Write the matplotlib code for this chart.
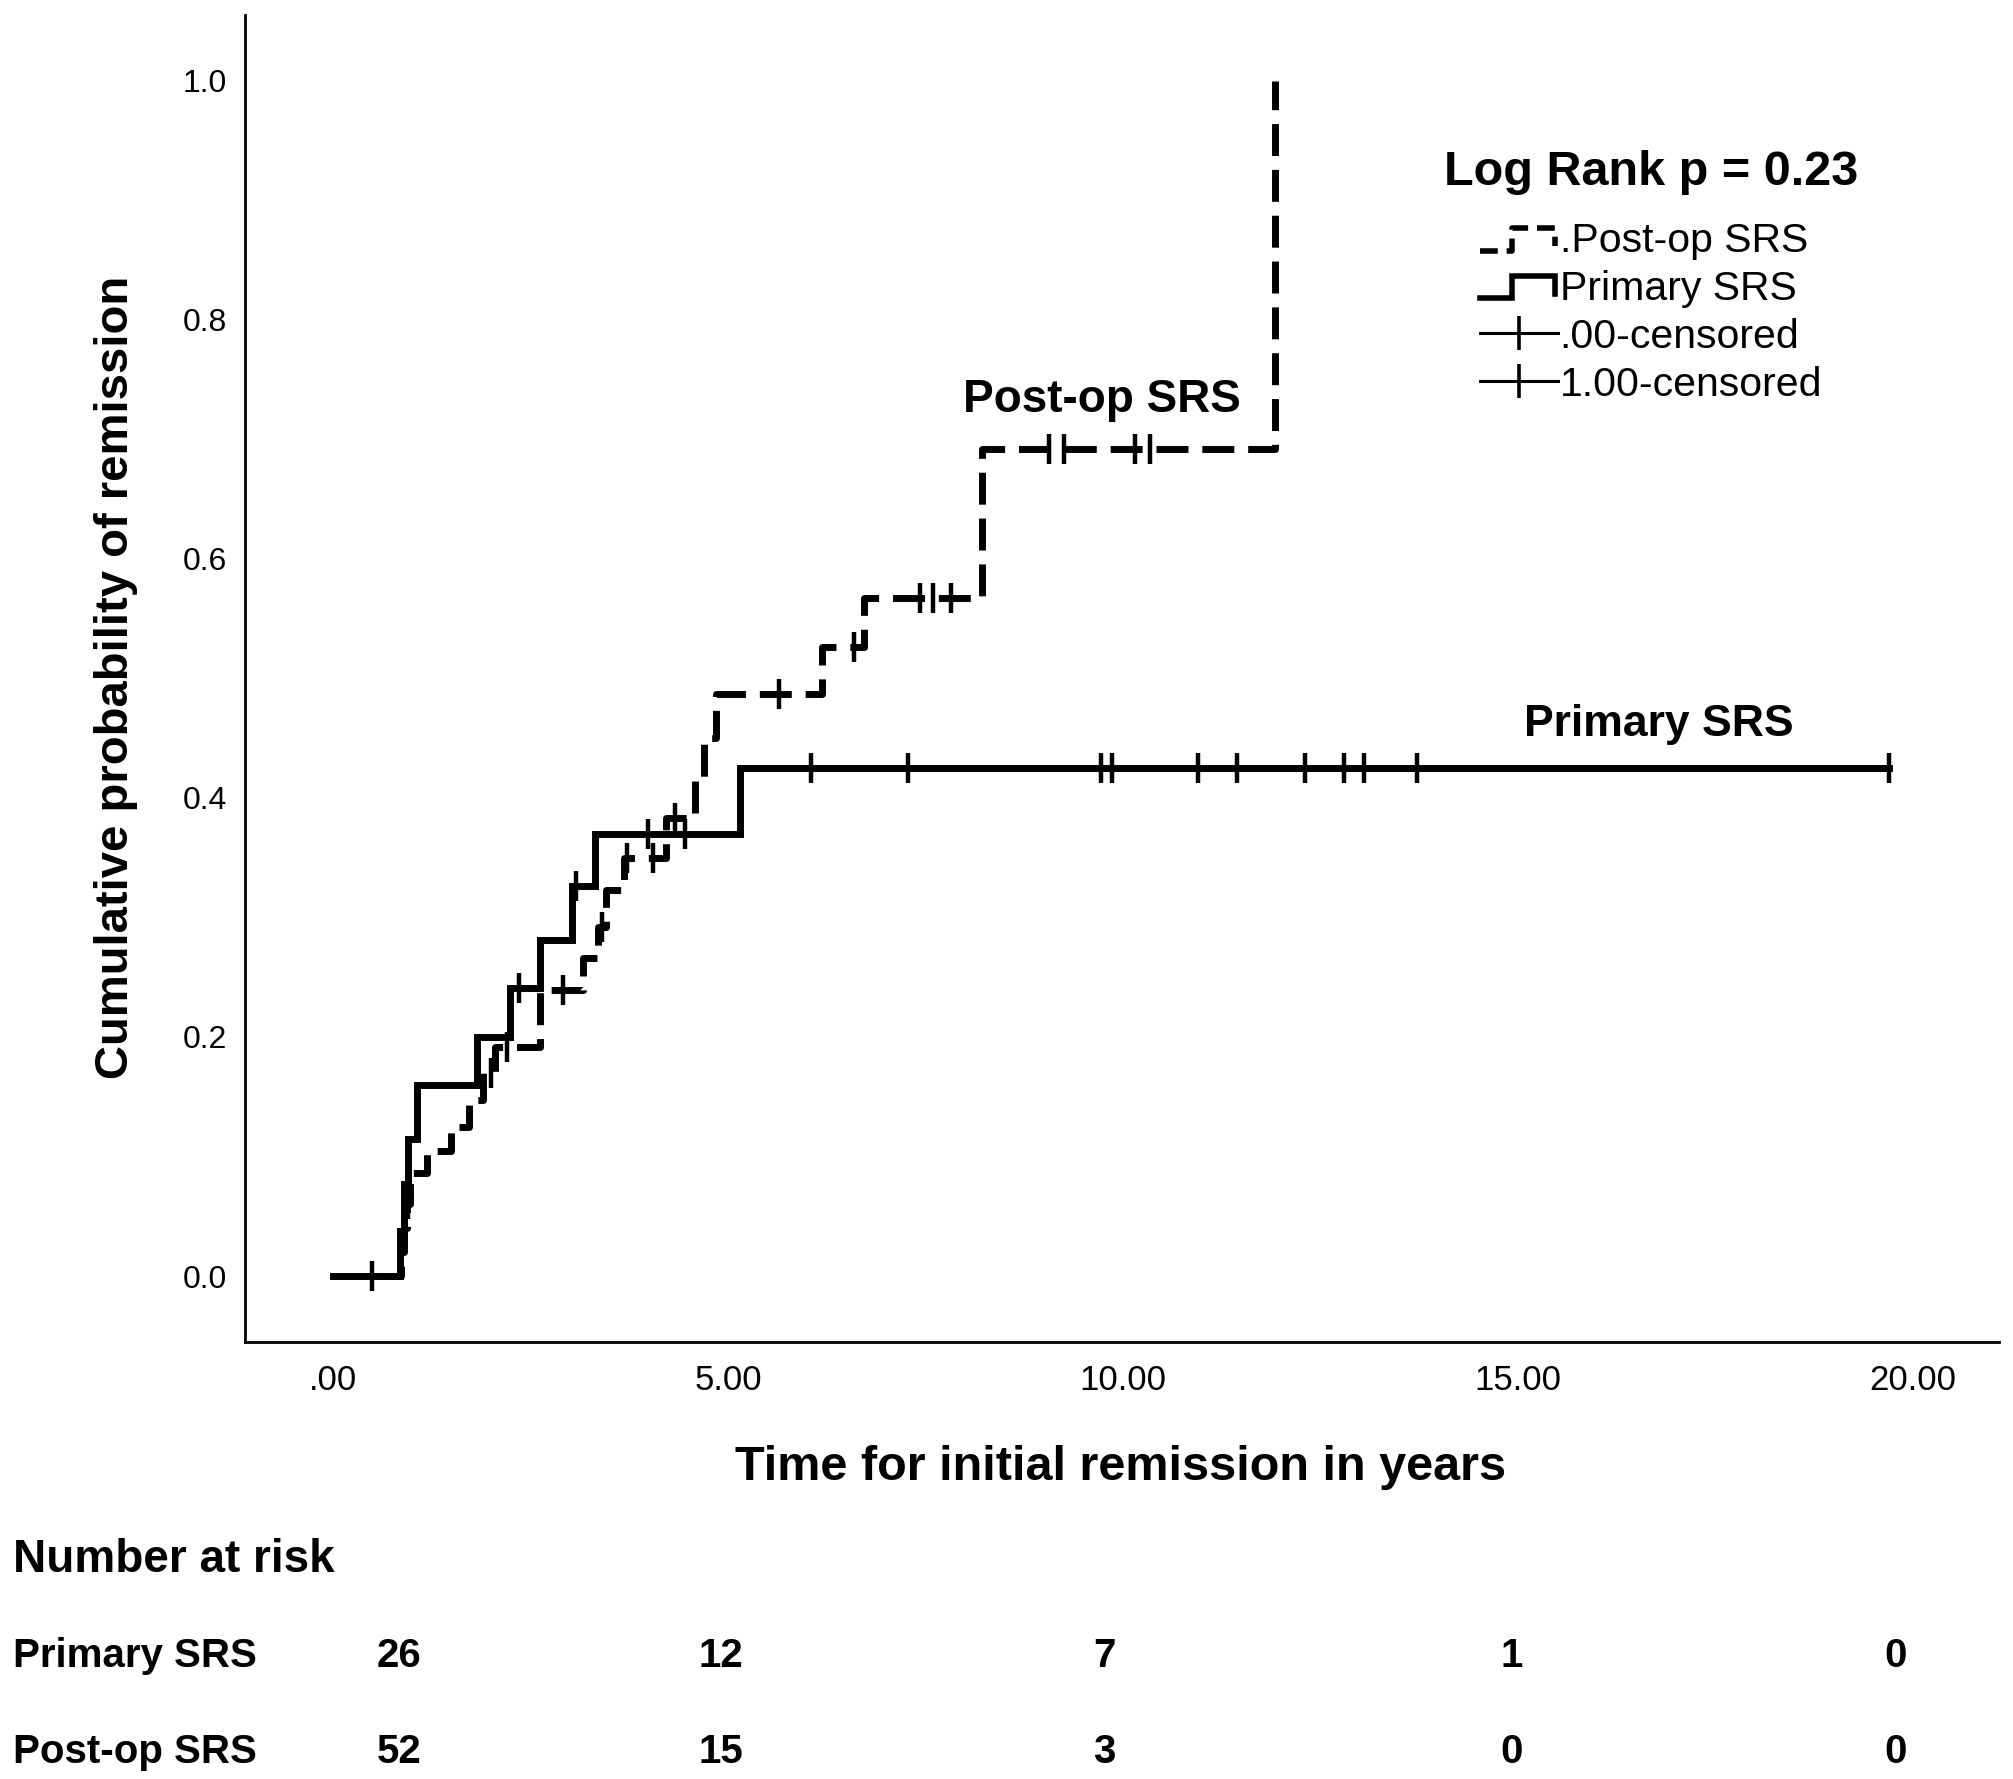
import numpy as np
import matplotlib
matplotlib.use("Agg")
import matplotlib.pyplot as plt
from matplotlib.lines import Line2D
from matplotlib.legend_handler import HandlerBase

plt.rcParams['font.family'] = ['Liberation Sans', 'DejaVu Sans']

# ---------------- data ----------------
primary_times = [0, 0.85, 0.90, 0.95, 1.06, 1.82, 2.24, 2.62, 3.02, 3.32, 5.15, 19.70]
primary_cum = [0, 0.038, 0.077, 0.115, 0.160, 0.200, 0.241, 0.281, 0.326, 0.370, 0.425, 0.425]
primary_censored = [0.50, 2.35, 3.07, 3.99, 4.46, 6.05, 7.28, 9.72, 9.86, 10.95,
                    11.45, 12.30, 12.80, 13.05, 13.72, 19.70]

postop_times = [0, 0.86, 0.90, 0.94, 0.98, 1.19, 1.50, 1.72, 1.90, 2.05, 2.62,
                3.17, 3.35, 3.45, 3.69, 4.22, 4.58, 4.70, 4.85, 6.19, 6.72, 8.22, 11.92]
postop_cum = [0, 0.020, 0.040, 0.060, 0.086, 0.105, 0.125, 0.147, 0.170, 0.192, 0.239,
              0.266, 0.292, 0.323, 0.350, 0.383, 0.417, 0.450, 0.487, 0.526, 0.567, 0.692, 1.0]
postop_censored = [0.95, 2.00, 2.20, 2.91, 3.40, 3.72, 4.05, 4.33, 5.65, 6.60,
                   7.43, 7.60, 7.82, 9.07, 9.25, 10.15, 10.34]

x_ticks = [0, 5, 10, 15, 20]
x_tick_labels = ['.00', '5.00', '10.00', '15.00', '20.00']
y_ticks = [0.0, 0.2, 0.4, 0.6, 0.8, 1.0]
y_tick_labels = ['0.0', '0.2', '0.4', '0.6', '0.8', '1.0']

risk_groups = ['Primary SRS', 'Post-op SRS']
risk_primary = [26, 12, 7, 1, 0]
risk_postop = [52, 15, 3, 0, 0]

legend_labels = ['.Post-op SRS', 'Primary SRS', '.00-censored', '1.00-censored']
logrank_text = 'Log Rank p = 0.23'


def step_value(times, vals, t):
    i = np.searchsorted(times, t, side='right') - 1
    return np.asarray(vals)[i]


# ---------------- figure ----------------
W, H = 2013, 1779
fig = plt.figure(figsize=(W / 100, H / 100), dpi=100)
ax_left, ax_right, ax_top, ax_bottom = 245, 1999, 15, 1342
ax = fig.add_axes([ax_left / W, 1 - ax_bottom / H, (ax_right - ax_left) / W, (ax_bottom - ax_top) / H])

LW = 5.0
DASH = (4.6, 2.0)

ax.step(primary_times, primary_cum, where='post', color='black', lw=LW, solid_joinstyle='miter')
ax.step(postop_times, postop_cum, where='post', color='black', lw=LW, linestyle=(0, DASH))

pc_y = [step_value(primary_times, primary_cum, t) for t in primary_censored]
oc_y = [step_value(postop_times, postop_cum, t) for t in postop_censored]
ax.plot(primary_censored, pc_y, ls='none', marker='|', ms=22, mew=3.2, color='black')
ax.plot(postop_censored, oc_y, ls='none', marker='|', ms=22, mew=3.2, color='black')

ax.set_xlim(-1.114, 21.09)
ax.set_ylim(-0.0552, 1.055)
ax.set_xticks(x_ticks)
ax.set_xticklabels(x_tick_labels, fontsize=25)
ax.set_yticks(y_ticks)
ax.set_yticklabels(y_tick_labels, fontsize=23)
ax.tick_params(axis='both', length=0)
ax.tick_params(axis='x', pad=16)
ax.tick_params(axis='y', pad=13)
for s in ['top', 'right']:
    ax.spines[s].set_visible(False)
for s in ['left', 'bottom']:
    ax.spines[s].set_linewidth(2.0)

ax.set_xlabel('Time for initial remission in years', fontsize=35, fontweight='bold', va='center')
ax.xaxis.set_label_coords(0.4994, -0.0942)
ax.set_ylabel('Cumulative probability of remission', fontsize=34, fontweight='bold', va='center')
ax.yaxis.set_label_coords((116 - ax_left) / (ax_right - ax_left), 0.501)

ax.text(9.73, 0.733, 'Post-op SRS', fontsize=33, fontweight='bold', ha='center', va='center')
ax.text(16.78, 0.461, 'Primary SRS', fontsize=32, fontweight='bold', ha='center', va='center')


# ---------------- legend ----------------
class StepGlyph(HandlerBase):
    def create_artists(self, legend, orig_handle, xdescent, ydescent, width, height, fontsize, trans):
        x0, y0 = -xdescent, -ydescent
        xs = [x0, x0 + 0.42 * width, x0 + 0.42 * width, x0 + 0.97 * width, x0 + 0.97 * width]
        ys = [y0 + 0.05 * height, y0 + 0.05 * height, y0 + 0.85 * height, y0 + 0.85 * height, y0 + 0.2 * height]
        ln = Line2D(xs, ys, color='black', lw=orig_handle.get_linewidth(),
                    linestyle=orig_handle.get_linestyle(), solid_joinstyle='miter')
        if orig_handle.get_linestyle() != '-':
            ln.set_dashes((3.2, 1.6))
        ln.set_transform(trans)
        return [ln]


h_post = Line2D([], [], color='black', lw=4, linestyle='--')
h_prim = Line2D([], [], color='black', lw=4, linestyle='-')
h_c0 = Line2D([], [], color='black', lw=2.2, marker='|', ms=24, mew=2.6)
h_c1 = Line2D([], [], color='black', lw=2.2, marker='|', ms=24, mew=2.6)

leg = ax.legend([h_post, h_prim, h_c0, h_c1], legend_labels,
                handler_map={h_post: StepGlyph(), h_prim: StepGlyph()},
                title=logrank_text, title_fontproperties={'weight': 'bold', 'size': 35},
                fontsize=29.5, frameon=False, loc='upper center',
                bbox_to_anchor=(1651 / W, 1 - 150 / H), bbox_transform=fig.transFigure,
                handlelength=1.9, handletextpad=0.05, labelspacing=0.24,
                borderpad=0, borderaxespad=0, numpoints=1, alignment='center')
leg._legend_box.sep = 19.5

# ---------------- number at risk table ----------------
fig.text(13 / W, 1 - 1560 / H, 'Number at risk', fontsize=33, fontweight='bold', ha='left', va='center')
row_y = [1656, 1752]
col_x = [399, 721, 1104, 1512, 1896]
for name, vals, yy in zip(risk_groups, [risk_primary, risk_postop], row_y):
    fig.text(13 / W, 1 - yy / H, name, fontsize=29, fontweight='bold', ha='left', va='center')
    for v, xx in zip(vals, col_x):
        fig.text(xx / W, 1 - yy / H, str(v), fontsize=29, fontweight='bold', ha='center', va='center')

fig.savefig('out.png', dpi=100, facecolor='white')
